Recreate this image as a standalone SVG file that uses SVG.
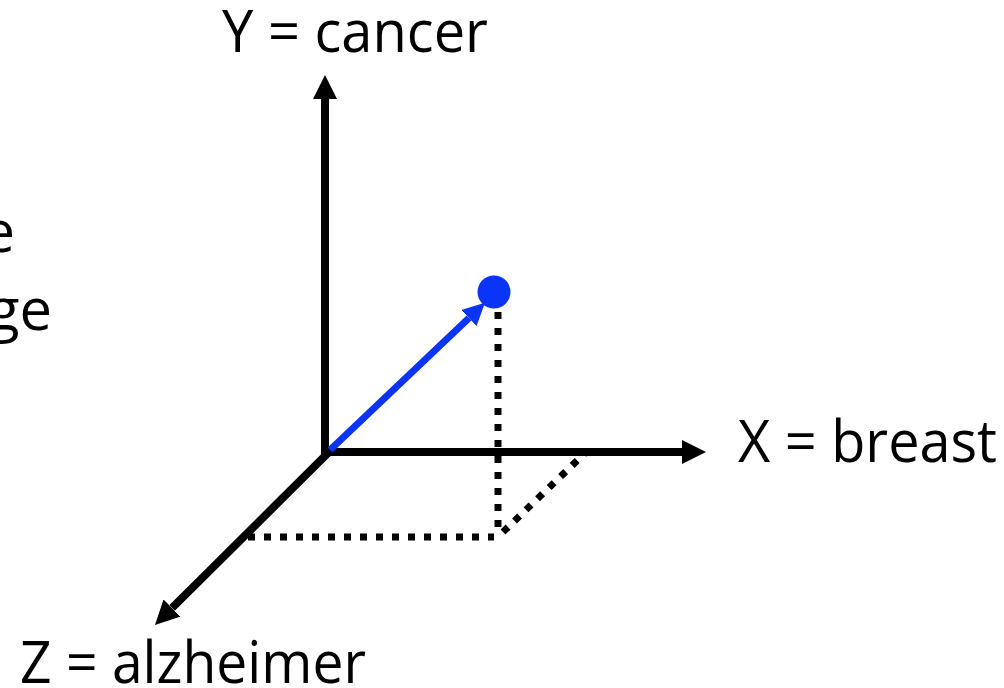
<svg xmlns="http://www.w3.org/2000/svg" width="1004" height="688" viewBox="0 0 1004 688">
<style>
.t{font-family:"Open Sans","Liberation Sans",sans-serif;font-size:58px;fill:#000}
.ax{stroke:#000;stroke-width:8;fill:none}
.dot{stroke:#000;stroke-width:7;fill:none;stroke-dasharray:7 9}
</style>
<defs>
<marker id="ah" markerUnits="userSpaceOnUse" markerWidth="24" markerHeight="24" refX="0" refY="12" orient="auto" viewBox="0 0 24 24"><path d="M0,0 L24,12 L0,24 z" fill="#000"/></marker>
<marker id="bh" markerUnits="userSpaceOnUse" markerWidth="22" markerHeight="22" refX="0" refY="11" orient="auto" viewBox="0 0 22 22"><path d="M0,0 L22,11 L0,22 z" fill="#0a34f8"/></marker>
</defs>
<g id="connectors">
<line class="dot" x1="498" y1="312" x2="498" y2="536"/>
<line class="dot" x1="248" y1="537" x2="494" y2="537"/>
<line class="dot" x1="503" y1="532" x2="585" y2="453"/>
<line class="ax" x1="325" y1="456" x2="325" y2="99" marker-end="url(#ah)"/>
<line class="ax" x1="321" y1="452" x2="682" y2="452" marker-end="url(#ah)"/>
<line class="ax" x1="328" y1="453" x2="172" y2="608" marker-end="url(#ah)"/>
<line stroke="#0a34f8" stroke-width="7" x1="330" y1="450" x2="469" y2="318" marker-end="url(#bh)"/>
</g>
<g id="point"><circle cx="494" cy="292" r="16.5" fill="#0a34f8"/></g>
<g id="labelY"><text class="t" x="222" y="52" textLength="266" lengthAdjust="spacingAndGlyphs">Y = cancer</text></g>
<g id="labelX"><text class="t" x="738" y="462" textLength="259" lengthAdjust="spacingAndGlyphs">X = breast</text></g>
<g id="labelZ"><text class="t" x="20" y="683" textLength="346" lengthAdjust="spacingAndGlyphs">Z = alzheimer</text></g>
<g id="leftText">
<text class="t" x="15" y="252" text-anchor="end">e</text>
<text class="t" x="52" y="330" text-anchor="end">ge</text>
</g>
</svg>
